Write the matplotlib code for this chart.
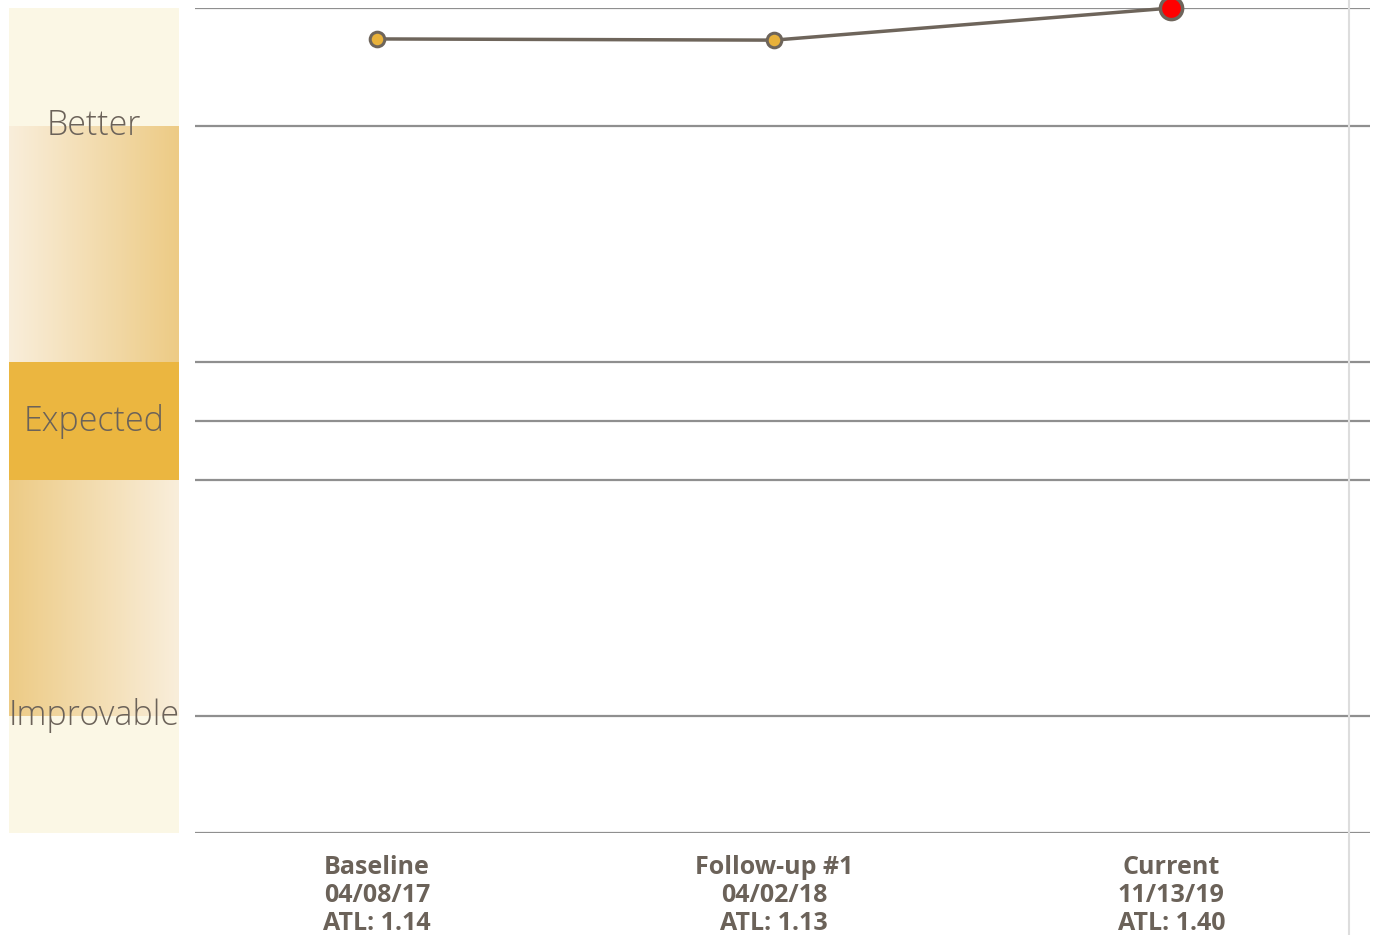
"""
ATL trend chart: three visits plotted against Better / Expected / Improvable bands.
"""

import numpy as np
import matplotlib
matplotlib.use("Agg")
import matplotlib.pyplot as plt
from matplotlib.colors import LinearSegmentedColormap
from matplotlib.lines import Line2D

# ---------- Data ----------
visits = ["Baseline", "Follow-up #1", "Current"]
dates = ["04/08/17", "04/02/18", "11/13/19"]
atl = [1.14, 1.13, 1.40]
band_labels = ["Better", "Expected", "Improvable"]

# ---------- Style ----------
TXT = "#6b6259"
LINE = "#6e655b"
GRID = "#8f8f8f"
GOLD = "#ebb640"
PALE = "#fbf7e5"
LIGHT = "#f9eedb"
MID = "#edcb85"

W, H = 1376, 935
fig = plt.figure(figsize=(W/100, H/100), dpi=100)

def fy(p):  # pixel row -> figure fraction
    return 1 - p/H

# band boundaries as axis fractions (top -> bottom)
edges = [1.0, 0.857, 0.571, 0.499, 0.428, 0.142, 0.0]

# ---------- Left band panel ----------
bx = fig.add_axes([9/W, fy(833), 170/W, (833-8)/H])
bx.axis("off")
bx.axhspan(0, 1, color=PALE, lw=0, zorder=0)
cmap = LinearSegmentedColormap.from_list("g", [LIGHT, MID])
grad = np.linspace(0, 1, 256)[None, :]
bx.imshow(grad, cmap=cmap, extent=[0, 1, edges[2], edges[1]], aspect="auto", zorder=1)
bx.imshow(grad[:, ::-1], cmap=cmap, extent=[0, 1, edges[5], edges[4]], aspect="auto", zorder=1)
bx.axhspan(edges[4], edges[2], color=GOLD, lw=0, zorder=1.5)
bx.set_xlim(0, 1); bx.set_ylim(0, 1)
for lab, yy in zip(band_labels, [edges[1], edges[3], edges[5]]):
    bx.text(0.5, yy, lab, ha="center", va="center", fontsize=24.5,
            family="Open Sans", weight="light", color=TXT, clip_on=False, zorder=5)

# ---------- Main plot ----------
ax = fig.add_axes([195/W, fy(833), (1370-195)/W, (833-8)/H])
x = np.arange(len(atl))
ax.set_xlim(-0.458, 2.50)
ax.set_ylim(1.40 - 825/119, 1.40)
lo, hi = ax.get_ylim()
for e in edges:
    ax.axhline(lo + e*(hi - lo), color=GRID, lw=1.6, zorder=1)
ax.plot(x, atl, color=LINE, lw=2.5, zorder=3, clip_on=False)
ax.plot(x[:-1], atl[:-1], "o", ms=10.5, mfc="#e8b13a", mec=LINE, mew=2.2,
        zorder=4, clip_on=False)
ax.plot(x[-1:], atl[-1:], "o", ms=16, mfc="#ff0000", mec=LINE, mew=2.5,
        zorder=5, clip_on=False)
ax.set_xticks([]); ax.set_yticks([])
for s in ax.spines.values():
    s.set_visible(False)

# three-line visit labels below the axis
for xi, v, d, a in zip(x, visits, dates, atl):
    for k, line in enumerate([v, d, f"ATL: {a:.2f}"]):
        ax.annotate(line, xy=(xi, 0), xycoords=("data", "axes fraction"),
                    xytext=(0, -25.2 - 19.8*k), textcoords="offset points",
                    ha="center", va="center", family="Open Sans",
                    weight="bold", fontsize=18, color=TXT)

# right-side divider
fig.add_artist(Line2D([1349/W, 1349/W], [0, 1], color="#dddddd", lw=1.5))

fig.savefig("out.png", dpi=100)
